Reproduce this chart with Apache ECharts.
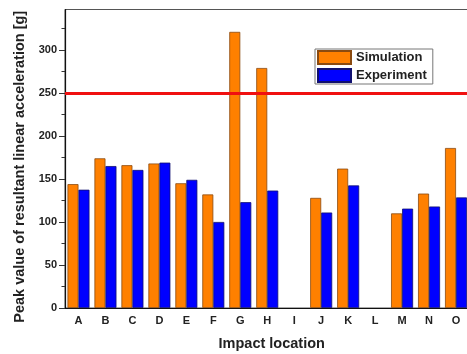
<!DOCTYPE html>
<html>
<head>
<meta charset="utf-8">
<script src="https://cdn.jsdelivr.net/npm/echarts@6/dist/echarts.min.js"></script>
<style>
  html, body { margin: 0; padding: 0; background: #fff; }
  #chart { width: 467px; height: 354px; }
</style>
</head>
<body>
<div id="chart"></div>
<script>
// Impact locations and peak resultant linear acceleration (g)
const locations = ['A','B','C','D','E','F','G','H','I','J','K','L','M','N','O'];
const simulation = [144, 174, 166, 168, 145, 132, 321, 279, null, 128, 162, null, 110, 133, 186];
const experiment = [137.5, 165, 160.5, 169, 149, 100, 123, 136.5, null, 111, 142.5, null, 115.5, 118, 128.5];
const yTicks = [0, 50, 100, 150, 200, 250, 300];
const yMinorTicks = [25, 75, 125, 175, 225, 275, 325];
const threshold = 250;

const FONT = '"Liberation Sans", Arial, sans-serif';
const TEXT = '#222';

const chart = echarts.init(document.getElementById('chart'), null, { renderer: 'canvas' });

chart.setOption({
  animation: false,
  backgroundColor: '#fff',
  grid: {
    left: 65, top: 9.5, width: 404.5, bottom: 46,
    outerBoundsMode: 'none', containLabel: false,
    show: true, borderColor: '#555', borderWidth: 1
  },
  legend: {
    orient: 'vertical',
    left: 315, top: 49,
    padding: [1, 6, 1, 2],
    itemWidth: 33, itemHeight: 13, itemGap: 3,
    icon: 'rect',
    borderColor: '#777', borderWidth: 1,
    backgroundColor: '#fff',
    textStyle: { fontFamily: FONT, fontWeight: 'bold', fontSize: 13, color: TEXT, lineHeight: 15 },
    data: ['Simulation', 'Experiment']
  },
  xAxis: {
    type: 'category',
    data: locations,
    name: 'Impact location',
    nameLocation: 'middle',
    nameGap: 28,
    nameTextStyle: { fontFamily: FONT, fontWeight: 'bold', fontSize: 14.5, color: TEXT, padding: [0, 0, 0, 9] },
    axisLine: { lineStyle: { color: '#111', width: 1.2 } },
    axisTick: { show: false },
    axisLabel: { fontFamily: FONT, fontWeight: 'bold', fontSize: 11, color: TEXT, margin: 7 }
  },
  yAxis: [
    {
      type: 'value', min: 0, max: 347,
      name: 'Peak value of resultant linear acceleration [g]',
      nameLocation: 'middle', nameGap: 35, nameRotate: 90,
      nameTextStyle: { fontFamily: FONT, fontWeight: 'bold', fontSize: 14.5, color: TEXT, padding: [0, 16, 0, 0] },
      axisLine: { show: true, lineStyle: { color: '#111', width: 1.2 } },
      axisTick: { show: true, length: 6, customValues: yTicks, lineStyle: { color: '#333' } },
      axisLabel: { fontFamily: FONT, fontWeight: 'bold', fontSize: 11, color: TEXT, margin: 8, customValues: yTicks },
      splitLine: { show: false }
    },
    {
      type: 'value', min: 0, max: 347, position: 'left',
      axisLine: { show: false },
      axisTick: { show: true, length: 3.5, customValues: yMinorTicks, lineStyle: { color: '#333' } },
      axisLabel: { show: false },
      splitLine: { show: false }
    }
  ],
  series: [
    {
      name: 'Simulation', type: 'bar', data: simulation,
      barWidth: 11, barGap: '0%',
      itemStyle: { color: '#FF8000', borderColor: '#8a4a10', borderWidth: 0.8 },
      markLine: {
        silent: true, symbol: 'none', label: { show: false },
        lineStyle: { color: '#f01010', width: 3, type: 'solid' },
        data: [{ yAxis: threshold }]
      }
    },
    {
      name: 'Experiment', type: 'bar', data: experiment,
      barWidth: 11, barGap: '0%',
      itemStyle: { color: '#0000FF', borderColor: '#101070', borderWidth: 0.8 }
    }
  ]
});
</script>
</body>
</html>
